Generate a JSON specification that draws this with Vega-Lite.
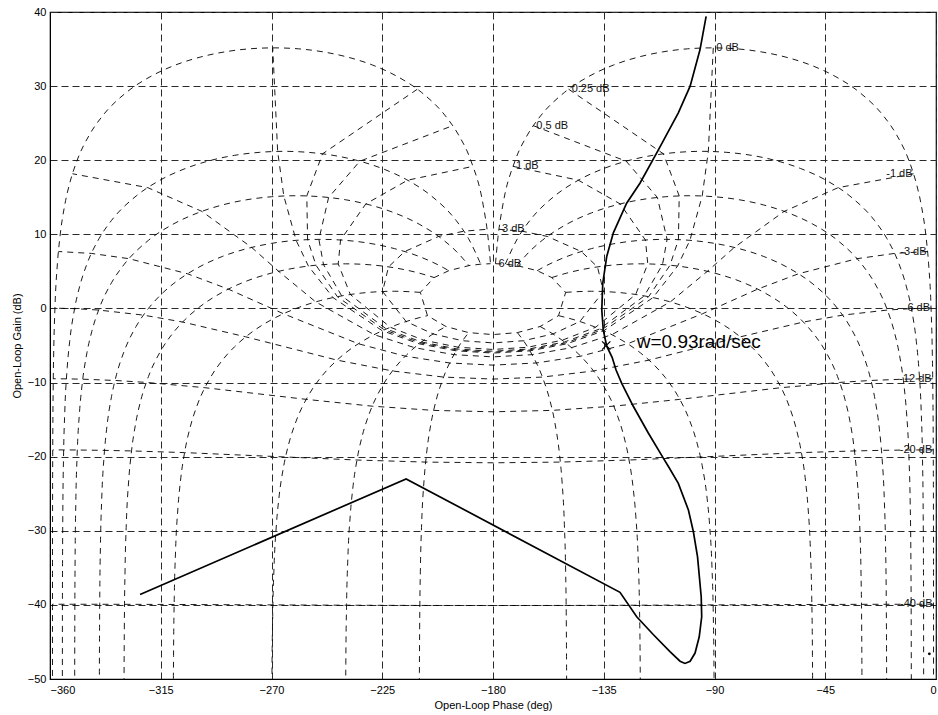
{
"$schema": "https://vega.github.io/schema/vega-lite/v6.json",
"width": 886, "height": 667,
"autosize": {"type": "none"},
"padding": {"left": 50, "top": 12, "right": 2, "bottom": 36},
"background": "white",
"config": {
 "view": {"stroke": "#000", "strokeWidth": 1.2},
 "font": "Liberation Sans",
 "axis": {"labelFont": "Liberation Sans", "titleFont": "Liberation Sans", "labelFontSize": 11, "titleFontSize": 11, "titleFontWeight": "normal", "labelColor": "#000", "titleColor": "#000", "domainColor": "#000", "ticks": false, "tickSize": 0, "grid": true, "gridDash": [7, 4], "gridColor": "#2a2a2a", "gridWidth": 1}
},
"datasets": {
 "mc": [
  {"c":"m6","i":0,"x":-178.996,"y":6.039},{"c":"m6","i":1,"x":-175.014,"y":5.975},{"c":"m6","i":2,"x":-170.249,"y":5.783},{"c":"m6","i":3,"x":-162.047,"y":5.097},{"c":"m6","i":4,"x":-156.115,"y":4.167},{"c":"m6","i":5,"x":-150.470,"y":2.169},{"c":"m6","i":6,"x":-153.377,"y":-0.973},{"c":"m6","i":7,"x":-160.864,"y":-2.436},{"c":"m6","i":8,"x":-170.088,"y":-3.262},{"c":"m6","i":9,"x":-180,"y":-3.529},{"c":"m6","i":10,"x":-189.912,"y":-3.262},{"c":"m6","i":11,"x":-199.136,"y":-2.436},{"c":"m6","i":12,"x":-206.623,"y":-0.973},{"c":"m6","i":13,"x":-209.530,"y":2.169},{"c":"m6","i":14,"x":-203.885,"y":4.167},{"c":"m6","i":15,"x":-197.953,"y":5.097},{"c":"m6","i":16,"x":-189.751,"y":5.783},{"c":"m6","i":17,"x":-184.986,"y":5.975},{"c":"m6","i":18,"x":-181.004,"y":6.039},
  {"c":"m3","i":0,"x":-177.578,"y":10.680},{"c":"m3","i":1,"x":-168.177,"y":10.425},{"c":"m3","i":2,"x":-157.904,"y":9.714},{"c":"m3","i":3,"x":-144.118,"y":7.678},{"c":"m3","i":4,"x":-137.545,"y":5.607},{"c":"m3","i":5,"x":-135.138,"y":2.284},{"c":"m3","i":6,"x":-144.706,"y":-1.764},{"c":"m3","i":7,"x":-155.640,"y":-3.442},{"c":"m3","i":8,"x":-167.623,"y":-4.357},{"c":"m3","i":9,"x":-180,"y":-4.649},{"c":"m3","i":10,"x":-192.377,"y":-4.357},{"c":"m3","i":11,"x":-204.360,"y":-3.442},{"c":"m3","i":12,"x":-215.294,"y":-1.764},{"c":"m3","i":13,"x":-224.862,"y":2.284},{"c":"m3","i":14,"x":-222.455,"y":5.607},{"c":"m3","i":15,"x":-215.882,"y":7.678},{"c":"m3","i":16,"x":-202.096,"y":9.714},{"c":"m3","i":17,"x":-191.823,"y":10.425},{"c":"m3","i":18,"x":-182.422,"y":10.680},
  {"c":"m1","i":0,"x":-171.870,"y":19.173},{"c":"m1","i":1,"x":-145.292,"y":17.303},{"c":"m1","i":2,"x":-128.313,"y":14.100},{"c":"m1","i":3,"x":-118.061,"y":9.233},{"c":"m1","i":4,"x":-117.109,"y":6.010},{"c":"m1","i":5,"x":-122.030,"y":1.881},{"c":"m1","i":6,"x":-138.293,"y":-2.539},{"c":"m1","i":7,"x":-151.896,"y":-4.290},{"c":"m1","i":8,"x":-165.883,"y":-5.235},{"c":"m1","i":9,"x":-180,"y":-5.535},{"c":"m1","i":10,"x":-194.117,"y":-5.235},{"c":"m1","i":11,"x":-208.104,"y":-4.290},{"c":"m1","i":12,"x":-221.707,"y":-2.539},{"c":"m1","i":13,"x":-237.970,"y":1.881},{"c":"m1","i":14,"x":-242.891,"y":6.010},{"c":"m1","i":15,"x":-241.939,"y":9.233},{"c":"m1","i":16,"x":-231.687,"y":14.100},{"c":"m1","i":17,"x":-214.708,"y":17.303},{"c":"m1","i":18,"x":-188.130,"y":19.173},
  {"c":"m05","i":0,"x":-163.628,"y":24.664},{"c":"m05","i":1,"x":-125.888,"y":19.866},{"c":"m05","i":2,"x":-113.210,"y":14.974},{"c":"m05","i":3,"x":-109.263,"y":9.318},{"c":"m05","i":4,"x":-111.129,"y":5.916},{"c":"m05","i":5,"x":-118.533,"y":1.690},{"c":"m05","i":6,"x":-136.648,"y":-2.767},{"c":"m05","i":7,"x":-150.951,"y":-4.526},{"c":"m05","i":8,"x":-165.442,"y":-5.473},{"c":"m05","i":9,"x":-180,"y":-5.774},{"c":"m05","i":10,"x":-194.558,"y":-5.473},{"c":"m05","i":11,"x":-209.049,"y":-4.526},{"c":"m05","i":12,"x":-223.352,"y":-2.767},{"c":"m05","i":13,"x":-241.467,"y":1.690},{"c":"m05","i":14,"x":-248.871,"y":5.916},{"c":"m05","i":15,"x":-250.737,"y":9.318},{"c":"m05","i":16,"x":-246.790,"y":14.974},{"c":"m05","i":17,"x":-234.112,"y":19.866},{"c":"m05","i":18,"x":-196.372,"y":24.664},
  {"c":"m025","i":0,"x":-149.267,"y":29.582},{"c":"m025","i":1,"x":-110.739,"y":20.862},{"c":"m025","i":2,"x":-104.340,"y":15.182},{"c":"m025","i":3,"x":-104.665,"y":9.281},{"c":"m025","i":4,"x":-108.073,"y":5.831},{"c":"m025","i":5,"x":-116.771,"y":1.580},{"c":"m025","i":6,"x":-135.824,"y":-2.887},{"c":"m025","i":7,"x":-150.474,"y":-4.647},{"c":"m025","i":8,"x":-165.221,"y":-5.595},{"c":"m025","i":9,"x":-180,"y":-5.897},{"c":"m025","i":10,"x":-194.779,"y":-5.595},{"c":"m025","i":11,"x":-209.526,"y":-4.647},{"c":"m025","i":12,"x":-224.176,"y":-2.887},{"c":"m025","i":13,"x":-243.229,"y":1.580},{"c":"m025","i":14,"x":-251.927,"y":5.831},{"c":"m025","i":15,"x":-255.335,"y":9.281},{"c":"m025","i":16,"x":-255.660,"y":15.182},{"c":"m025","i":17,"x":-249.261,"y":20.862},{"c":"m025","i":18,"x":-210.733,"y":29.582},
  {"c":"m0","i":0,"x":-90.5,"y":35.162},{"c":"m0","i":1,"x":-92.5,"y":21.186},{"c":"m0","i":2,"x":-95,"y":15.174},{"c":"m0","i":3,"x":-100,"y":9.186},{"c":"m0","i":4,"x":-105,"y":5.719},{"c":"m0","i":5,"x":-115,"y":1.460},{"c":"m0","i":6,"x":-135,"y":-3.010},{"c":"m0","i":7,"x":-150,"y":-4.771},{"c":"m0","i":8,"x":-165,"y":-5.719},{"c":"m0","i":9,"x":-180,"y":-6.021},{"c":"m0","i":10,"x":-195,"y":-5.719},{"c":"m0","i":11,"x":-210,"y":-4.771},{"c":"m0","i":12,"x":-225,"y":-3.010},{"c":"m0","i":13,"x":-245,"y":1.460},{"c":"m0","i":14,"x":-255,"y":5.719},{"c":"m0","i":15,"x":-260,"y":9.186},{"c":"m0","i":16,"x":-265,"y":15.174},{"c":"m0","i":17,"x":-267.5,"y":21.186},{"c":"m0","i":18,"x":-269.5,"y":35.162},
  {"c":"mn1","i":0,"x":-9.130,"y":18.173},{"c":"mn1","i":1,"x":-39.710,"y":16.303},{"c":"mn1","i":2,"x":-61.689,"y":13.100},{"c":"mn1","i":3,"x":-81.939,"y":8.233},{"c":"mn1","i":4,"x":-92.888,"y":5.010},{"c":"mn1","i":5,"x":-107.970,"y":0.881},{"c":"mn1","i":6,"x":-131.703,"y":-3.539},{"c":"mn1","i":7,"x":-148.097,"y":-5.290},{"c":"mn1","i":8,"x":-164.116,"y":-6.235},{"c":"mn1","i":9,"x":-180,"y":-6.535},{"c":"mn1","i":10,"x":-195.884,"y":-6.235},{"c":"mn1","i":11,"x":-211.903,"y":-5.290},{"c":"mn1","i":12,"x":-228.297,"y":-3.539},{"c":"mn1","i":13,"x":-252.030,"y":0.881},{"c":"mn1","i":14,"x":-267.112,"y":5.010},{"c":"mn1","i":15,"x":-278.061,"y":8.233},{"c":"mn1","i":16,"x":-298.311,"y":13.100},{"c":"mn1","i":17,"x":-320.290,"y":16.303},{"c":"mn1","i":18,"x":-350.870,"y":18.173},
  {"c":"mn3","i":0,"x":-3.422,"y":7.680},{"c":"mn3","i":1,"x":-16.823,"y":7.425},{"c":"mn3","i":2,"x":-32.099,"y":6.714},{"c":"mn3","i":3,"x":-55.881,"y":4.678},{"c":"mn3","i":4,"x":-72.455,"y":2.607},{"c":"mn3","i":5,"x":-94.862,"y":-0.716},{"c":"mn3","i":6,"x":-125.301,"y":-4.764},{"c":"mn3","i":7,"x":-144.362,"y":-6.442},{"c":"mn3","i":8,"x":-162.377,"y":-7.357},{"c":"mn3","i":9,"x":-180,"y":-7.649},{"c":"mn3","i":10,"x":-197.623,"y":-7.357},{"c":"mn3","i":11,"x":-215.638,"y":-6.442},{"c":"mn3","i":12,"x":-234.699,"y":-4.764},{"c":"mn3","i":13,"x":-265.138,"y":-0.716},{"c":"mn3","i":14,"x":-287.545,"y":2.607},{"c":"mn3","i":15,"x":-304.119,"y":4.678},{"c":"mn3","i":16,"x":-327.901,"y":6.714},{"c":"mn3","i":17,"x":-343.177,"y":7.425},{"c":"mn3","i":18,"x":-356.578,"y":7.680},
  {"c":"mn6","i":0,"x":-2.005,"y":0.039},{"c":"mn6","i":1,"x":-9.986,"y":-0.025},{"c":"mn6","i":2,"x":-19.752,"y":-0.217},{"c":"mn6","i":3,"x":-37.955,"y":-0.903},{"c":"mn6","i":4,"x":-53.886,"y":-1.833},{"c":"mn6","i":5,"x":-79.527,"y":-3.831},{"c":"mn6","i":6,"x":-116.620,"y":-6.973},{"c":"mn6","i":7,"x":-139.141,"y":-8.436},{"c":"mn6","i":8,"x":-159.915,"y":-9.262},{"c":"mn6","i":9,"x":-180,"y":-9.529},{"c":"mn6","i":10,"x":-200.085,"y":-9.262},{"c":"mn6","i":11,"x":-220.859,"y":-8.436},{"c":"mn6","i":12,"x":-243.380,"y":-6.973},{"c":"mn6","i":13,"x":-280.473,"y":-3.831},{"c":"mn6","i":14,"x":-306.114,"y":-1.833},{"c":"mn6","i":15,"x":-322.045,"y":-0.903},{"c":"mn6","i":16,"x":-340.248,"y":-0.217},{"c":"mn6","i":17,"x":-350.014,"y":-0.025},{"c":"mn6","i":18,"x":-357.995,"y":0.039},
  {"c":"mn12","i":0,"x":-1.335,"y":-9.488},{"c":"mn12","i":1,"x":-6.673,"y":-9.502},{"c":"mn12","i":2,"x":-13.317,"y":-9.546},{"c":"mn12","i":3,"x":-26.417,"y":-9.716},{"c":"mn12","i":4,"x":-39.116,"y":-9.980},{"c":"mn12","i":5,"x":-62.930,"y":-10.693},{"c":"mn12","i":6,"x":-104.101,"y":-12.266},{"c":"mn12","i":7,"x":-130.937,"y":-13.187},{"c":"mn12","i":8,"x":-155.894,"y":-13.756},{"c":"mn12","i":9,"x":-180,"y":-13.946},{"c":"mn12","i":10,"x":-204.106,"y":-13.756},{"c":"mn12","i":11,"x":-229.063,"y":-13.187},{"c":"mn12","i":12,"x":-255.899,"y":-12.266},{"c":"mn12","i":13,"x":-297.070,"y":-10.693},{"c":"mn12","i":14,"x":-320.884,"y":-9.980},{"c":"mn12","i":15,"x":-333.583,"y":-9.716},{"c":"mn12","i":16,"x":-346.683,"y":-9.546},{"c":"mn12","i":17,"x":-353.327,"y":-9.502},{"c":"mn12","i":18,"x":-358.665,"y":-9.488},
  {"c":"mn20","i":0,"x":-1.111,"y":-19.085},{"c":"mn20","i":1,"x":-5.555,"y":-19.089},{"c":"mn20","i":2,"x":-11.104,"y":-19.101},{"c":"mn20","i":3,"x":-22.158,"y":-19.149},{"c":"mn20","i":4,"x":-33.139,"y":-19.226},{"c":"mn20","i":5,"x":-54.682,"y":-19.452},{"c":"mn20","i":6,"x":-95.711,"y":-20.043},{"c":"mn20","i":7,"x":-124.715,"y":-20.453},{"c":"mn20","i":8,"x":-152.636,"y":-20.731},{"c":"mn20","i":9,"x":-180,"y":-20.828},{"c":"mn20","i":10,"x":-207.364,"y":-20.731},{"c":"mn20","i":11,"x":-235.285,"y":-20.453},{"c":"mn20","i":12,"x":-264.289,"y":-20.043},{"c":"mn20","i":13,"x":-305.318,"y":-19.452},{"c":"mn20","i":14,"x":-326.861,"y":-19.226},{"c":"mn20","i":15,"x":-337.842,"y":-19.149},{"c":"mn20","i":16,"x":-348.896,"y":-19.101},{"c":"mn20","i":17,"x":-354.445,"y":-19.089},{"c":"mn20","i":18,"x":-358.889,"y":-19.085},
  {"c":"mn40","i":0,"x":-1.010,"y":-39.913},{"c":"mn40","i":1,"x":-5.051,"y":-39.913},{"c":"mn40","i":2,"x":-10.101,"y":-39.914},{"c":"mn40","i":3,"x":-20.197,"y":-39.918},{"c":"mn40","i":4,"x":-30.289,"y":-39.925},{"c":"mn40","i":5,"x":-50.443,"y":-39.944},{"c":"mn40","i":6,"x":-90.573,"y":-40.000},{"c":"mn40","i":7,"x":-120.492,"y":-40.044},{"c":"mn40","i":8,"x":-150.286,"y":-40.075},{"c":"mn40","i":9,"x":-180,"y":-40.086},{"c":"mn40","i":10,"x":-209.714,"y":-40.075},{"c":"mn40","i":11,"x":-239.508,"y":-40.044},{"c":"mn40","i":12,"x":-269.427,"y":-40.000},{"c":"mn40","i":13,"x":-309.557,"y":-39.944},{"c":"mn40","i":14,"x":-329.711,"y":-39.925},{"c":"mn40","i":15,"x":-339.803,"y":-39.918},{"c":"mn40","i":16,"x":-349.899,"y":-39.914},{"c":"mn40","i":17,"x":-354.949,"y":-39.913},{"c":"mn40","i":18,"x":-358.990,"y":-39.913}
 ],
 "pc": [
  {"c":"p1","x":-1.001,"y":-60},{"c":"p1","x":-1.01,"y":-40.0},{"c":"p1","x":-1.03,"y":-30.46},{"c":"p1","x":-1.1,"y":-20.0},{"c":"p1","x":-1.3,"y":-10.46},{"c":"p1","x":-1.5,"y":-6.02},{"c":"p1","x":-2,"y":0.0},{"c":"p1","x":-3,"y":6.02},{"c":"p1","x":-4,"y":9.54},{"c":"p1","x":-6,"y":13.97},{"c":"p1","x":-8,"y":16.88},{"c":"p1","x":-11,"y":19.96},{"c":"p1","x":-16,"y":23.42},{"c":"p1","x":-21,"y":25.84},{"c":"p1","x":-31,"y":29.14},{"c":"p1","x":-41,"y":31.32},{"c":"p1","x":-51,"y":32.85},{"c":"p1","x":-61,"y":33.91},{"c":"p1","x":-71,"y":34.62},{"c":"p1","x":-81,"y":35.03},{"c":"p1","x":-91,"y":35.16},{"c":"p1","x":-101,"y":35.03},{"c":"p1","x":-111,"y":34.62},{"c":"p1","x":-121,"y":33.91},{"c":"p1","x":-131,"y":32.85},{"c":"p1","x":-141,"y":31.32},{"c":"p1","x":-151,"y":29.14},{"c":"p1","x":-161,"y":25.84},{"c":"p1","x":-166,"y":23.42},{"c":"p1","x":-171,"y":19.96},{"c":"p1","x":-176,"y":13.97},{"c":"p1","x":-178,"y":9.54},{"c":"p1","x":-178.996,"y":6.04},
  {"c":"q1","x":-358.999,"y":-60},{"c":"q1","x":-358.99,"y":-40.0},{"c":"q1","x":-358.97,"y":-30.46},{"c":"q1","x":-358.9,"y":-20.0},{"c":"q1","x":-358.7,"y":-10.46},{"c":"q1","x":-358.5,"y":-6.02},{"c":"q1","x":-358,"y":0.0},{"c":"q1","x":-357,"y":6.02},{"c":"q1","x":-356,"y":9.54},{"c":"q1","x":-354,"y":13.97},{"c":"q1","x":-352,"y":16.88},{"c":"q1","x":-349,"y":19.96},{"c":"q1","x":-344,"y":23.42},{"c":"q1","x":-339,"y":25.84},{"c":"q1","x":-329,"y":29.14},{"c":"q1","x":-319,"y":31.32},{"c":"q1","x":-309,"y":32.85},{"c":"q1","x":-299,"y":33.91},{"c":"q1","x":-289,"y":34.62},{"c":"q1","x":-279,"y":35.03},{"c":"q1","x":-269,"y":35.16},{"c":"q1","x":-259,"y":35.03},{"c":"q1","x":-249,"y":34.62},{"c":"q1","x":-239,"y":33.91},{"c":"q1","x":-229,"y":32.85},{"c":"q1","x":-219,"y":31.32},{"c":"q1","x":-209,"y":29.14},{"c":"q1","x":-199,"y":25.84},{"c":"q1","x":-194,"y":23.42},{"c":"q1","x":-189,"y":19.96},{"c":"q1","x":-184,"y":13.97},{"c":"q1","x":-182,"y":9.54},{"c":"q1","x":-181.004,"y":6.04},
  {"c":"p5","x":-5.005,"y":-60},{"c":"p5","x":-5.05,"y":-39.99},{"c":"p5","x":-5.1,"y":-33.97},{"c":"p5","x":-5.2,"y":-27.95},{"c":"p5","x":-5.5,"y":-19.99},{"c":"p5","x":-6,"y":-13.97},{"c":"p5","x":-7,"y":-7.95},{"c":"p5","x":-8,"y":-4.43},{"c":"p5","x":-10,"y":0.0},{"c":"p5","x":-12,"y":2.91},{"c":"p5","x":-15,"y":5.99},{"c":"p5","x":-20,"y":9.46},{"c":"p5","x":-25,"y":11.88},{"c":"p5","x":-35,"y":15.17},{"c":"p5","x":-45,"y":17.36},{"c":"p5","x":-55,"y":18.88},{"c":"p5","x":-65,"y":19.95},{"c":"p5","x":-75,"y":20.66},{"c":"p5","x":-85,"y":21.06},{"c":"p5","x":-95,"y":21.20},{"c":"p5","x":-105,"y":21.06},{"c":"p5","x":-115,"y":20.66},{"c":"p5","x":-125,"y":19.95},{"c":"p5","x":-135,"y":18.88},{"c":"p5","x":-145,"y":17.36},{"c":"p5","x":-155,"y":15.17},{"c":"p5","x":-165,"y":11.88},{"c":"p5","x":-170,"y":9.46},{"c":"p5","x":-175.014,"y":5.975},
  {"c":"q5","x":-354.995,"y":-60},{"c":"q5","x":-354.95,"y":-39.99},{"c":"q5","x":-354.9,"y":-33.97},{"c":"q5","x":-354.8,"y":-27.95},{"c":"q5","x":-354.5,"y":-19.99},{"c":"q5","x":-354,"y":-13.97},{"c":"q5","x":-353,"y":-7.95},{"c":"q5","x":-352,"y":-4.43},{"c":"q5","x":-350,"y":0.0},{"c":"q5","x":-348,"y":2.91},{"c":"q5","x":-345,"y":5.99},{"c":"q5","x":-340,"y":9.46},{"c":"q5","x":-335,"y":11.88},{"c":"q5","x":-325,"y":15.17},{"c":"q5","x":-315,"y":17.36},{"c":"q5","x":-305,"y":18.88},{"c":"q5","x":-295,"y":19.95},{"c":"q5","x":-285,"y":20.66},{"c":"q5","x":-275,"y":21.06},{"c":"q5","x":-265,"y":21.20},{"c":"q5","x":-255,"y":21.06},{"c":"q5","x":-245,"y":20.66},{"c":"q5","x":-235,"y":19.95},{"c":"q5","x":-225,"y":18.88},{"c":"q5","x":-215,"y":17.36},{"c":"q5","x":-205,"y":15.17},{"c":"q5","x":-195,"y":11.88},{"c":"q5","x":-190,"y":9.46},{"c":"q5","x":-184.986,"y":5.975},
  {"c":"p10","x":-10.01,"y":-59.96},{"c":"p10","x":-10.03,"y":-50.41},{"c":"p10","x":-10.1,"y":-39.96},{"c":"p10","x":-10.2,"y":-33.94},{"c":"p10","x":-10.5,"y":-25.98},{"c":"p10","x":-11,"y":-19.96},{"c":"p10","x":-12,"y":-13.94},{"c":"p10","x":-13,"y":-10.42},{"c":"p10","x":-15,"y":-5.99},{"c":"p10","x":-17,"y":-3.08},{"c":"p10","x":-20,"y":0.0},{"c":"p10","x":-25,"y":3.47},{"c":"p10","x":-30,"y":5.89},{"c":"p10","x":-40,"y":9.19},{"c":"p10","x":-50,"y":11.37},{"c":"p10","x":-60,"y":12.89},{"c":"p10","x":-70,"y":13.96},{"c":"p10","x":-80,"y":14.67},{"c":"p10","x":-90,"y":15.07},{"c":"p10","x":-100,"y":15.21},{"c":"p10","x":-110,"y":15.07},{"c":"p10","x":-120,"y":14.67},{"c":"p10","x":-130,"y":13.96},{"c":"p10","x":-140,"y":12.89},{"c":"p10","x":-150,"y":11.37},{"c":"p10","x":-160,"y":9.19},{"c":"p10","x":-165,"y":7.73},{"c":"p10","x":-170.249,"y":5.783},
  {"c":"q10","x":-349.99,"y":-59.96},{"c":"q10","x":-349.97,"y":-50.41},{"c":"q10","x":-349.9,"y":-39.96},{"c":"q10","x":-349.8,"y":-33.94},{"c":"q10","x":-349.5,"y":-25.98},{"c":"q10","x":-349,"y":-19.96},{"c":"q10","x":-348,"y":-13.94},{"c":"q10","x":-347,"y":-10.42},{"c":"q10","x":-345,"y":-5.99},{"c":"q10","x":-343,"y":-3.08},{"c":"q10","x":-340,"y":0.0},{"c":"q10","x":-335,"y":3.47},{"c":"q10","x":-330,"y":5.89},{"c":"q10","x":-320,"y":9.19},{"c":"q10","x":-310,"y":11.37},{"c":"q10","x":-300,"y":12.89},{"c":"q10","x":-290,"y":13.96},{"c":"q10","x":-280,"y":14.67},{"c":"q10","x":-270,"y":15.07},{"c":"q10","x":-260,"y":15.21},{"c":"q10","x":-250,"y":15.07},{"c":"q10","x":-240,"y":14.67},{"c":"q10","x":-230,"y":13.96},{"c":"q10","x":-220,"y":12.89},{"c":"q10","x":-210,"y":11.37},{"c":"q10","x":-200,"y":9.19},{"c":"q10","x":-195,"y":7.73},{"c":"q10","x":-189.751,"y":5.783},
  {"c":"p20","x":-20.02,"y":-59.82},{"c":"p20","x":-20.05,"y":-51.86},{"c":"p20","x":-20.1,"y":-45.84},{"c":"p20","x":-20.2,"y":-39.82},{"c":"p20","x":-20.5,"y":-31.86},{"c":"p20","x":-21,"y":-25.84},{"c":"p20","x":-22,"y":-19.82},{"c":"p20","x":-23,"y":-16.30},{"c":"p20","x":-25,"y":-11.88},{"c":"p20","x":-27,"y":-8.96},{"c":"p20","x":-30,"y":-5.89},{"c":"p20","x":-35,"y":-2.42},{"c":"p20","x":-40,"y":0.0},{"c":"p20","x":-45,"y":1.84},{"c":"p20","x":-50,"y":3.30},{"c":"p20","x":-60,"y":5.48},{"c":"p20","x":-70,"y":7.01},{"c":"p20","x":-80,"y":8.07},{"c":"p20","x":-90,"y":8.78},{"c":"p20","x":-100,"y":9.19},{"c":"p20","x":-110,"y":9.32},{"c":"p20","x":-120,"y":9.19},{"c":"p20","x":-130,"y":8.78},{"c":"p20","x":-140,"y":8.07},{"c":"p20","x":-150,"y":7.01},{"c":"p20","x":-160,"y":5.48},{"c":"p20","x":-162.047,"y":5.097},
  {"c":"q20","x":-339.98,"y":-59.82},{"c":"q20","x":-339.95,"y":-51.86},{"c":"q20","x":-339.9,"y":-45.84},{"c":"q20","x":-339.8,"y":-39.82},{"c":"q20","x":-339.5,"y":-31.86},{"c":"q20","x":-339,"y":-25.84},{"c":"q20","x":-338,"y":-19.82},{"c":"q20","x":-337,"y":-16.30},{"c":"q20","x":-335,"y":-11.88},{"c":"q20","x":-333,"y":-8.96},{"c":"q20","x":-330,"y":-5.89},{"c":"q20","x":-325,"y":-2.42},{"c":"q20","x":-320,"y":0.0},{"c":"q20","x":-315,"y":1.84},{"c":"q20","x":-310,"y":3.30},{"c":"q20","x":-300,"y":5.48},{"c":"q20","x":-290,"y":7.01},{"c":"q20","x":-280,"y":8.07},{"c":"q20","x":-270,"y":8.78},{"c":"q20","x":-260,"y":9.19},{"c":"q20","x":-250,"y":9.32},{"c":"q20","x":-240,"y":9.19},{"c":"q20","x":-230,"y":8.78},{"c":"q20","x":-220,"y":8.07},{"c":"q20","x":-210,"y":7.01},{"c":"q20","x":-200,"y":5.48},{"c":"q20","x":-197.953,"y":5.097},
  {"c":"p30","x":-30.03,"y":-59.60},{"c":"p30","x":-30.05,"y":-55.16},{"c":"p30","x":-30.1,"y":-49.14},{"c":"p30","x":-30.2,"y":-43.12},{"c":"p30","x":-30.5,"y":-35.16},{"c":"p30","x":-31,"y":-29.14},{"c":"p30","x":-32,"y":-23.12},{"c":"p30","x":-33,"y":-19.60},{"c":"p30","x":-35,"y":-15.17},{"c":"p30","x":-37,"y":-12.26},{"c":"p30","x":-40,"y":-9.19},{"c":"p30","x":-45,"y":-5.72},{"c":"p30","x":-50,"y":-3.30},{"c":"p30","x":-55,"y":-1.46},{"c":"p30","x":-60,"y":0.0},{"c":"p30","x":-70,"y":2.18},{"c":"p30","x":-80,"y":3.71},{"c":"p30","x":-90,"y":4.77},{"c":"p30","x":-100,"y":5.48},{"c":"p30","x":-110,"y":5.89},{"c":"p30","x":-120,"y":6.02},{"c":"p30","x":-130,"y":5.89},{"c":"p30","x":-140,"y":5.48},{"c":"p30","x":-150,"y":4.77},{"c":"p30","x":-156.115,"y":4.167},
  {"c":"q30","x":-329.97,"y":-59.60},{"c":"q30","x":-329.95,"y":-55.16},{"c":"q30","x":-329.9,"y":-49.14},{"c":"q30","x":-329.8,"y":-43.12},{"c":"q30","x":-329.5,"y":-35.16},{"c":"q30","x":-329,"y":-29.14},{"c":"q30","x":-328,"y":-23.12},{"c":"q30","x":-327,"y":-19.60},{"c":"q30","x":-325,"y":-15.17},{"c":"q30","x":-323,"y":-12.26},{"c":"q30","x":-320,"y":-9.19},{"c":"q30","x":-315,"y":-5.72},{"c":"q30","x":-310,"y":-3.30},{"c":"q30","x":-305,"y":-1.46},{"c":"q30","x":-300,"y":0.0},{"c":"q30","x":-290,"y":2.18},{"c":"q30","x":-280,"y":3.71},{"c":"q30","x":-270,"y":4.77},{"c":"q30","x":-260,"y":5.48},{"c":"q30","x":-250,"y":5.89},{"c":"q30","x":-240,"y":6.02},{"c":"q30","x":-230,"y":5.89},{"c":"q30","x":-220,"y":5.48},{"c":"q30","x":-210,"y":4.77},{"c":"q30","x":-203.885,"y":4.167},
  {"c":"p50","x":-50.05,"y":-58.87},{"c":"p50","x":-50.1,"y":-52.85},{"c":"p50","x":-50.2,"y":-46.83},{"c":"p50","x":-50.5,"y":-38.87},{"c":"p50","x":-51,"y":-32.85},{"c":"p50","x":-52,"y":-26.83},{"c":"p50","x":-53,"y":-23.31},{"c":"p50","x":-55,"y":-18.88},{"c":"p50","x":-57,"y":-15.97},{"c":"p50","x":-60,"y":-12.89},{"c":"p50","x":-65,"y":-9.43},{"c":"p50","x":-70,"y":-7.00},{"c":"p50","x":-75,"y":-5.17},{"c":"p50","x":-80,"y":-3.71},{"c":"p50","x":-90,"y":-1.52},{"c":"p50","x":-100,"y":0.0},{"c":"p50","x":-110,"y":1.07},{"c":"p50","x":-120,"y":1.78},{"c":"p50","x":-130,"y":2.18},{"c":"p50","x":-140,"y":2.32},{"c":"p50","x":-150.470,"y":2.169},
  {"c":"q50","x":-309.95,"y":-58.87},{"c":"q50","x":-309.9,"y":-52.85},{"c":"q50","x":-309.8,"y":-46.83},{"c":"q50","x":-309.5,"y":-38.87},{"c":"q50","x":-309,"y":-32.85},{"c":"q50","x":-308,"y":-26.83},{"c":"q50","x":-307,"y":-23.31},{"c":"q50","x":-305,"y":-18.88},{"c":"q50","x":-303,"y":-15.97},{"c":"q50","x":-300,"y":-12.89},{"c":"q50","x":-295,"y":-9.43},{"c":"q50","x":-290,"y":-7.00},{"c":"q50","x":-285,"y":-5.17},{"c":"q50","x":-280,"y":-3.71},{"c":"q50","x":-270,"y":-1.52},{"c":"q50","x":-260,"y":0.0},{"c":"q50","x":-250,"y":1.07},{"c":"q50","x":-240,"y":1.78},{"c":"q50","x":-230,"y":2.18},{"c":"q50","x":-220,"y":2.32},{"c":"q50","x":-209.530,"y":2.169},
  {"c":"p90","x":-90.05,"y":-61.18},{"c":"p90","x":-90.1,"y":-55.16},{"c":"p90","x":-90.2,"y":-49.14},{"c":"p90","x":-90.5,"y":-41.18},{"c":"p90","x":-91,"y":-35.16},{"c":"p90","x":-92,"y":-29.14},{"c":"p90","x":-93,"y":-25.62},{"c":"p90","x":-95,"y":-21.20},{"c":"p90","x":-97,"y":-18.28},{"c":"p90","x":-100,"y":-15.21},{"c":"p90","x":-105,"y":-11.74},{"c":"p90","x":-110,"y":-9.32},{"c":"p90","x":-115,"y":-7.48},{"c":"p90","x":-120,"y":-6.02},{"c":"p90","x":-130,"y":-3.84},{"c":"p90","x":-140,"y":-2.32},{"c":"p90","x":-150,"y":-1.25},{"c":"p90","x":-153.377,"y":-0.973},
  {"c":"q90","x":-269.95,"y":-61.18},{"c":"q90","x":-269.9,"y":-55.16},{"c":"q90","x":-269.8,"y":-49.14},{"c":"q90","x":-269.5,"y":-41.18},{"c":"q90","x":-269,"y":-35.16},{"c":"q90","x":-268,"y":-29.14},{"c":"q90","x":-267,"y":-25.62},{"c":"q90","x":-265,"y":-21.20},{"c":"q90","x":-263,"y":-18.28},{"c":"q90","x":-260,"y":-15.21},{"c":"q90","x":-255,"y":-11.74},{"c":"q90","x":-250,"y":-9.32},{"c":"q90","x":-245,"y":-7.48},{"c":"q90","x":-240,"y":-6.02},{"c":"q90","x":-230,"y":-3.84},{"c":"q90","x":-220,"y":-2.32},{"c":"q90","x":-210,"y":-1.25},{"c":"q90","x":-206.623,"y":-0.973},
  {"c":"p120","x":-120.05,"y":-59.93},{"c":"p120","x":-120.1,"y":-53.91},{"c":"p120","x":-120.2,"y":-47.89},{"c":"p120","x":-120.5,"y":-39.93},{"c":"p120","x":-121,"y":-33.91},{"c":"p120","x":-122,"y":-27.90},{"c":"p120","x":-123,"y":-24.38},{"c":"p120","x":-125,"y":-19.95},{"c":"p120","x":-127,"y":-17.03},{"c":"p120","x":-130,"y":-13.96},{"c":"p120","x":-135,"y":-10.49},{"c":"p120","x":-140,"y":-8.07},{"c":"p120","x":-145,"y":-6.23},{"c":"p120","x":-150,"y":-4.77},{"c":"p120","x":-155,"y":-3.58},{"c":"p120","x":-160.864,"y":-2.436},
  {"c":"q120","x":-239.95,"y":-59.93},{"c":"q120","x":-239.9,"y":-53.91},{"c":"q120","x":-239.8,"y":-47.89},{"c":"q120","x":-239.5,"y":-39.93},{"c":"q120","x":-239,"y":-33.91},{"c":"q120","x":-238,"y":-27.90},{"c":"q120","x":-237,"y":-24.38},{"c":"q120","x":-235,"y":-19.95},{"c":"q120","x":-233,"y":-17.03},{"c":"q120","x":-230,"y":-13.96},{"c":"q120","x":-225,"y":-10.49},{"c":"q120","x":-220,"y":-8.07},{"c":"q120","x":-215,"y":-6.23},{"c":"q120","x":-210,"y":-4.77},{"c":"q120","x":-205,"y":-3.58},{"c":"q120","x":-199.136,"y":-2.436},
  {"c":"p150","x":-150.03,"y":-59.60},{"c":"p150","x":-150.05,"y":-55.16},{"c":"p150","x":-150.1,"y":-49.14},{"c":"p150","x":-150.2,"y":-43.12},{"c":"p150","x":-150.5,"y":-35.16},{"c":"p150","x":-151,"y":-29.14},{"c":"p150","x":-152,"y":-23.12},{"c":"p150","x":-153,"y":-19.60},{"c":"p150","x":-155,"y":-15.17},{"c":"p150","x":-157,"y":-12.26},{"c":"p150","x":-160,"y":-9.19},{"c":"p150","x":-165,"y":-5.72},{"c":"p150","x":-170.088,"y":-3.262},
  {"c":"q150","x":-209.97,"y":-59.60},{"c":"q150","x":-209.95,"y":-55.16},{"c":"q150","x":-209.9,"y":-49.14},{"c":"q150","x":-209.8,"y":-43.12},{"c":"q150","x":-209.5,"y":-35.16},{"c":"q150","x":-209,"y":-29.14},{"c":"q150","x":-208,"y":-23.12},{"c":"q150","x":-207,"y":-19.60},{"c":"q150","x":-205,"y":-15.17},{"c":"q150","x":-203,"y":-12.26},{"c":"q150","x":-200,"y":-9.19},{"c":"q150","x":-195,"y":-5.72},{"c":"q150","x":-189.912,"y":-3.262}
 ],
 "lab": [
  {"t":"6 dB","m":6,"x":-178.996,"y":6.039},{"t":"3 dB","m":3,"x":-177.578,"y":10.680},{"t":"1 dB","m":1,"x":-171.870,"y":19.173},{"t":"0.5 dB","m":0.5,"x":-163.628,"y":24.664},{"t":"0.25 dB","m":0.25,"x":-149.267,"y":29.582},{"t":"0 dB","m":0,"x":-90.5,"y":35.162},
  {"t":"-1 dB","m":-1,"x":-9.130,"y":18.173},{"t":"-3 dB","m":-3,"x":-3.422,"y":7.680},{"t":"-6 dB","m":-6,"x":-2.005,"y":0.039},{"t":"-12 dB","m":-12,"x":-1.335,"y":-9.488},{"t":"-20 dB","m":-20,"x":-1.111,"y":-19.085},{"t":"-40 dB","m":-40,"x":-1.010,"y":-39.913}
 ],
 "resp": [
  {"i":1,"x":-93.4,"y":39.4},{"i":2,"x":-95.9,"y":34.9},{"i":3,"x":-99.9,"y":30.0},{"i":4,"x":-104.7,"y":26.4},{"i":5,"x":-112.8,"y":21.4},{"i":6,"x":-120.3,"y":16.9},{"i":7,"x":-125.7,"y":14.2},{"i":8,"x":-131.1,"y":10.2},{"i":9,"x":-133.8,"y":7.0},{"i":10,"x":-135.4,"y":3.4},{"i":11,"x":-135.8,"y":-0.2},{"i":12,"x":-135.2,"y":-2.9},{"i":13,"x":-133.8,"y":-5.1},{"i":14,"x":-131.6,"y":-6.6},{"i":15,"x":-130.0,"y":-8.3},{"i":16,"x":-127.7,"y":-10.1},{"i":17,"x":-123.0,"y":-13.2},{"i":18,"x":-116.9,"y":-16.8},{"i":19,"x":-110.8,"y":-20.2},{"i":20,"x":-108.6,"y":-21.4},{"i":21,"x":-104.7,"y":-23.6},{"i":22,"x":-100.6,"y":-27.2},{"i":23,"x":-98.6,"y":-30.1},{"i":24,"x":-96.9,"y":-33.5},{"i":25,"x":-95.4,"y":-38.9},{"i":26,"x":-95.2,"y":-41.6},{"i":27,"x":-96.2,"y":-44.3},{"i":28,"x":-97.9,"y":-46.5},{"i":29,"x":-99.9,"y":-47.6},{"i":30,"x":-102.0,"y":-47.9},{"i":31,"x":-104.0,"y":-47.6},{"i":32,"x":-108.1,"y":-46.3},{"i":33,"x":-114.9,"y":-44.0},{"i":34,"x":-121.6,"y":-41.6},{"i":35,"x":-128.4,"y":-38.3},{"i":36,"x":-215.3,"y":-23.0},{"i":37,"x":-323.4,"y":-38.6}
 ],
 "mk": [{"x":-134.0,"y":-5.0}],
 "dot": [{"x":-2.7,"y":-46.6}],
 "txt": [{"t":"w=0.93rad/sec","x":-121.6,"y":-5.3}]
},
"encoding": {
 "x": {"field":"x","type":"quantitative","scale":{"domain":[-360,0],"nice":false,"zero":false},
  "axis":{"values":[-360,-315,-270,-225,-180,-135,-90,-45,0],"title":"Open-Loop Phase (deg)","labelPadding":5,"titleX":443,"titleY":26,"titleBaseline":"middle","titleAlign":"center"}},
 "y": {"field":"y","type":"quantitative","scale":{"domain":[-50,40],"nice":false,"zero":false},
  "axis":{"values":[-50,-40,-30,-20,-10,0,10,20,30,40],"title":"Open-Loop Gain (dB)","labelPadding":4,"titleX":-33,"titleY":333.5,"titleAngle":-90,"titleBaseline":"middle","titleAlign":"center"}}
},
"layer": [
 {"data":{"name":"mc"},"mark":{"type":"line","clip":true,"stroke":"#000","strokeWidth":0.9,"strokeDash":[6,5]},
  "encoding":{"detail":{"field":"c"},"order":{"field":"i","type":"quantitative"}}},
 {"data":{"name":"pc"},"mark":{"type":"line","clip":true,"interpolate":"monotone","stroke":"#000","strokeWidth":0.9,"strokeDash":[6,5]},
  "encoding":{"detail":{"field":"c"}}},
 {"data":{"name":"lab"},"transform":[{"filter":"datum.m >= 0"}],"mark":{"type":"text","align":"left","baseline":"middle","dx":3,"font":"Liberation Sans","fontSize":11,"fill":"#111"},
  "encoding":{"text":{"field":"t"}}},
 {"data":{"name":"lab"},"transform":[{"filter":"datum.m < 0"}],"mark":{"type":"text","align":"right","baseline":"middle","dx":-1,"font":"Liberation Sans","fontSize":11,"fill":"#111"},
  "encoding":{"text":{"field":"t"}}},
 {"data":{"name":"resp"},"mark":{"type":"line","clip":true,"stroke":"#000","strokeWidth":1.7},
  "encoding":{"order":{"field":"i","type":"quantitative"}}},
 {"data":{"name":"mk"},"mark":{"type":"point","shape":"M-1,-1L1,1M-1,1L1,-1","size":70,"stroke":"#000","strokeWidth":1.2,"filled":false,"opacity":1}},
 {"data":{"name":"dot"},"mark":{"type":"circle","size":8,"fill":"#000","opacity":1}},
 {"data":{"name":"txt"},"mark":{"type":"text","align":"left","baseline":"alphabetic","font":"Liberation Sans","fontSize":19,"fill":"#000"},
  "encoding":{"text":{"field":"t"}}}
]
}
